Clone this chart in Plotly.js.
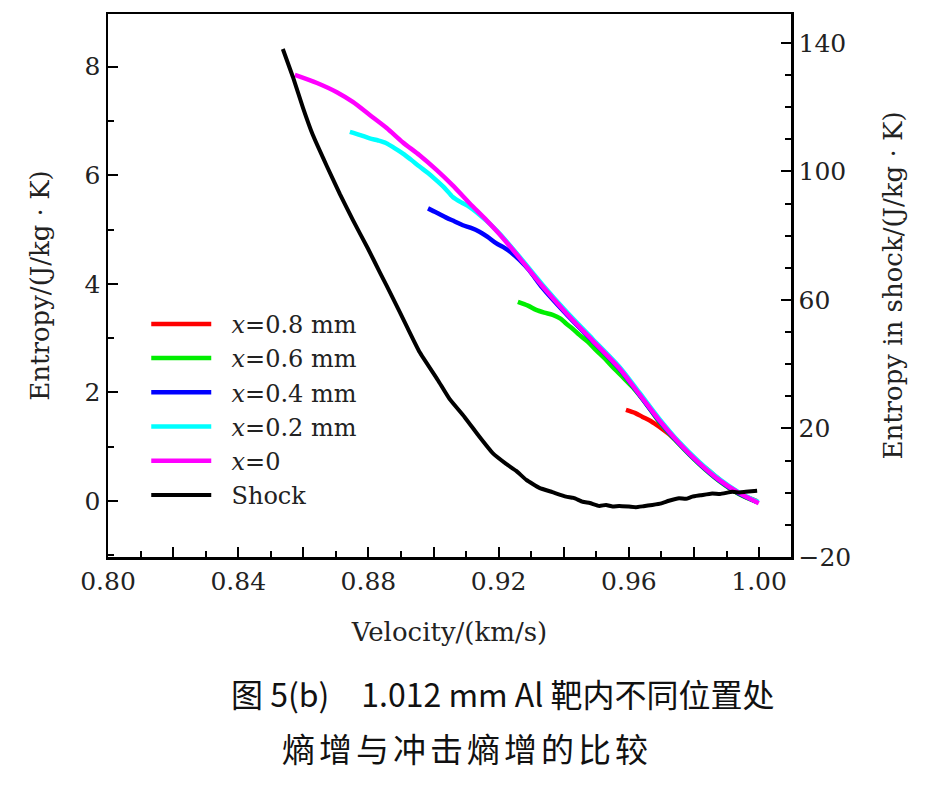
<!DOCTYPE html>
<html>
<head>
<meta charset="utf-8">
<script src="https://cdn.plot.ly/plotly-3.0.1.min.js"></script>
<style>html,body{margin:0;padding:0;background:#fff;}#chart{width:930px;height:792px;}</style>
</head>
<body>
<div id="chart"></div>
<script>
// ---- data ----
const seriesNames = ["<i>x</i>=0.8 mm", "<i>x</i>=0.6 mm", "<i>x</i>=0.4 mm", "<i>x</i>=0.2 mm", "<i>x</i>=0", "Shock"];

const vel08 = [0.9591,0.9620,0.9642,0.9668,0.9693,0.9720,0.9744,0.9770,0.9795,0.9825,0.9856,0.9887,0.9918,0.9950,0.9993];
const ent08 = [1.68,1.62,1.55,1.47,1.37,1.25,1.12,0.97,0.82,0.66,0.51,0.35,0.20,0.10,0.00];

const vel06 = [0.9259,0.9290,0.9315,0.9340,0.9366,0.9390,0.9407,0.9428,0.9448,0.9475,0.9499,0.9525,0.9550,0.9580,0.9611,0.9652,0.9693,0.9754,0.9816,0.9877,0.9938,0.9995];
const ent06 = [3.67,3.60,3.52,3.47,3.43,3.36,3.27,3.17,3.06,2.93,2.78,2.63,2.47,2.29,2.10,1.80,1.46,1.05,0.68,0.37,0.13,-0.02];

const vel04 = [0.8983,0.9010,0.9039,0.9065,0.9090,0.9115,0.9141,0.9165,0.9192,0.9213,0.9240,0.9264,0.9294,0.9334,0.9408,0.9488,0.9570,0.9632,0.9693,0.9754,0.9816,0.9877,0.9938,0.9995];
const ent04 = [5.39,5.31,5.22,5.15,5.08,5.03,4.96,4.87,4.75,4.68,4.57,4.44,4.25,3.93,3.44,2.95,2.44,1.96,1.48,1.06,0.69,0.38,0.14,-0.02];

const vel02 = [0.8743,0.8775,0.8804,0.8830,0.8855,0.8880,0.8906,0.8930,0.8957,0.8983,0.9008,0.9035,0.9059,0.9085,0.9110,0.9163,0.9202,0.9264,0.9334,0.9408,0.9488,0.9570,0.9632,0.9693,0.9754,0.9816,0.9877,0.9938,0.9998];
const ent02 = [6.80,6.74,6.68,6.64,6.59,6.50,6.40,6.29,6.16,6.04,5.91,5.76,5.60,5.50,5.42,5.16,4.93,4.50,3.99,3.49,2.99,2.48,2.00,1.52,1.09,0.72,0.41,0.16,-0.02];

const vel0 = [0.8574,0.8642,0.8703,0.8752,0.8804,0.8856,0.8905,0.8957,0.9009,0.9058,0.9110,0.9163,0.9202,0.9264,0.9334,0.9408,0.9488,0.9570,0.9632,0.9693,0.9754,0.9816,0.9877,0.9938,0.9999];
const ent0 = [7.85,7.70,7.53,7.35,7.11,6.87,6.61,6.37,6.10,5.82,5.49,5.17,4.92,4.48,3.96,3.46,2.96,2.45,1.97,1.49,1.07,0.70,0.39,0.15,-0.04];

const velShock = [0.8537,0.8568,0.8599,0.8629,0.8672,0.8712,0.8752,0.8798,0.8835,0.8875,0.8920,0.8957,0.9013,0.9049,0.9095,0.9141,0.9181,0.9224,0.9254,0.9285,0.9325,0.9365,0.9407,0.9430,0.9458,0.9480,0.9509,0.9530,0.9550,0.9570,0.9600,0.9621,0.9645,0.9672,0.9700,0.9723,0.9754,0.9775,0.9795,0.9820,0.9856,0.9880,0.9918,0.9940,0.9959,0.9994];
const entShock = [138.1,129.4,119.8,111.4,101.7,93.0,84.9,76.1,68.6,60.6,51.3,43.8,35.1,29.2,23.6,17.4,12.4,8.9,6.8,4.0,1.5,0.2,-1.2,-1.6,-2.8,-3.2,-4.1,-3.8,-4.3,-4.1,-4.3,-4.5,-4.2,-3.8,-3.3,-2.5,-1.7,-1.9,-1.2,-0.8,-0.2,-0.4,0.3,0.1,0.3,0.6];

const xTickVals = [0.80,0.82,0.84,0.86,0.88,0.90,0.92,0.94,0.96,0.98,1.00];
const xTickText = ["0.80","","0.84","","0.88","","0.92","","0.96","","1.00"];
const yTickVals = [0,2,4,6,8];
const y2TickVals = [-20,20,60,100,140];

const captionLine1 = "图 5(b)　1.012 mm Al 靶内不同位置处";
const captionLine2 = "熵增与冲击熵增的比较";

// ---- chart ----
const serif = "DejaVu Serif, Liberation Serif, serif";
const colors = ["#ff0000", "#00ee00", "#0000ff", "#00ffff", "#ff00ff", "#000000"];
const xs = [vel08, vel06, vel04, vel02, vel0];
const ys = [ent08, ent06, ent04, ent02, ent0];
const pad = "\u00A0\u00A0"; // gap between legend line and text

const traces = xs.map((xv, i) => ({
  x: xv, y: ys[i], type: "scatter", mode: "lines", name: pad + seriesNames[i],
  line: {color: colors[i], width: 4.5, shape: "spline", smoothing: 0.8},
  yaxis: "y"
}));
traces.push({
  x: velShock, y: entShock, type: "scatter", mode: "lines", name: pad + seriesNames[5],
  line: {color: colors[5], width: 4, shape: "spline", smoothing: 0.4},
  yaxis: "y2"
});

const tickFont = {family: serif, size: 25, color: "#222"};
const titleFont = {family: serif, size: 26, color: "#222"};

const layout = {
  width: 930, height: 792,
  margin: {l: 108, r: 139, t: 14, b: 235, autoexpand: false},
  paper_bgcolor: "#fff", plot_bgcolor: "#fff",
  showlegend: true,
  legend: {
    x: 0.056, y: 0.47, xanchor: "left", yanchor: "top",
    bgcolor: "rgba(0,0,0,0)", borderwidth: 0,
    font: {family: serif, size: 24, color: "#222"},
    itemwidth: 60, tracegroupgap: 0
  },
  xaxis: {
    range: [0.80, 1.0098], tickmode: "array", tickvals: xTickVals, ticktext: xTickText,
    ticks: "inside", ticklen: 10, tickwidth: 2, tickcolor: "#000",
    minor: {dtick: 0.01, tick0: 0.8, ticks: "inside", ticklen: 6, tickwidth: 2, tickcolor: "#000"},
    showline: true, linewidth: 2.5, linecolor: "#000", mirror: true,
    showgrid: false, zeroline: false, tickfont: tickFont,
    title: {text: "Velocity/(km/s)", font: titleFont, standoff: 29}
  },
  yaxis: {
    range: [-1.03, 8.97], tickmode: "array", tickvals: yTickVals,
    ticks: "inside", ticklen: 10, tickwidth: 2, tickcolor: "#000",
    minor: {dtick: 1, tick0: 0, ticks: "inside", ticklen: 6, tickwidth: 2, tickcolor: "#000"},
    showline: true, linewidth: 2.5, linecolor: "#000",
    showgrid: false, zeroline: false, tickfont: tickFont,
    title: {text: "Entropy/(J/kg · K)", font: titleFont, standoff: 28}
  },
  yaxis2: {
    overlaying: "y", side: "right",
    range: [-20, 149], tickmode: "array", tickvals: y2TickVals,
    ticks: "inside", ticklen: 10, tickwidth: 2, tickcolor: "#000",
    minor: {dtick: 10, tick0: 0, ticks: "inside", ticklen: 6, tickwidth: 2, tickcolor: "#000"},
    showline: true, linewidth: 2.5, linecolor: "#000",
    showgrid: false, zeroline: false, tickfont: tickFont,
    title: {text: "Entropy in shock/(J/kg · K)", font: titleFont, standoff: 34}
  },
  annotations: [
    {text: captionLine1, xref: "paper", yref: "paper", x: 0.578, y: -0.2505,
     xanchor: "center", yanchor: "middle", showarrow: false,
     font: {family: "Noto Sans CJK SC", size: 32, color: "#111"}},
    {text: "<span style=\"letter-spacing:4px\">" + captionLine2 + "</span>", xref: "paper", yref: "paper", x: 0.525, y: -0.3517,
     xanchor: "center", yanchor: "middle", showarrow: false,
     font: {family: "Noto Sans CJK SC", size: 33, color: "#111"}}
  ]
};

Plotly.newPlot("chart", traces, layout, {displayModeBar: false, staticPlot: true});
</script>
</body>
</html>
